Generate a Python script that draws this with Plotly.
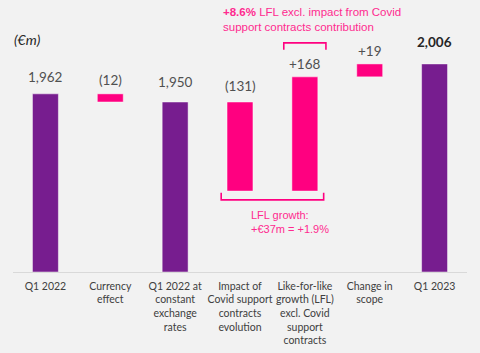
import plotly.graph_objects as go

categories = ["Q1 2022", "Currency<br>effect", "Q1 2022 at<br>constant<br>exchange<br>rates",
              "Impact of<br>Covid support<br>contracts<br>evolution",
              "Like-for-like<br>growth (LFL)<br>excl. Covid<br>support<br>contracts",
              "Change in<br>scope", "Q1 2023"]
values = [1962, -12, 1950, -131, 168, 19, 2006]
kinds = ["total", "delta", "total", "delta", "delta", "delta", "total"]
value_labels = ["1,962", "(12)", "1,950", "(131)", "+168", "+19", "2,006"]

AXIS_MIN = 1700
AXIS_MAX = 2100
PURPLE = "#771d8f"
PINK = "#ff0080"
PINK_TXT = "#ff2a8f"

# waterfall geometry from data
bases, heights, colors, tops = [], [], [], []
level = 0
for v, k in zip(values, kinds):
    if k == "total":
        bases.append(AXIS_MIN)
        heights.append(v - AXIS_MIN)
        colors.append(PURPLE)
        level = v
        tops.append(v)
    else:
        b = level if v >= 0 else level + v
        bases.append(b)
        heights.append(abs(v))
        colors.append(PINK)
        tops.append(max(level, level + v))
        level += v

x = list(range(len(categories)))
fig = go.Figure(go.Bar(x=x, y=heights, base=bases, width=0.4,
                       marker=dict(color=colors, line=dict(color="rgba(255,255,255,0.6)", width=0.8)),
                       hoverinfo="skip"))

label_shift = [17, 14, 20, 16, 13, 13, 22]
ann = []
for i, (t, top) in enumerate(zip(value_labels, tops)):
    bold = i == len(values) - 1
    ann.append(dict(x=i, y=top, yshift=label_shift[i], text=f"<b>{t}</b>" if bold else t,
                    showarrow=False, yanchor="middle",
                    font=dict(family="Lato", size=13.5, color="#262626" if bold else "#505050")))

ann.append(dict(xref="paper", x=-0.002, y=2070 - 28, text="<i>(€m)</i>", showarrow=False,
                xanchor="left", yanchor="middle",
                font=dict(family="Lato", size=14, color="#262626")))

ann.append(dict(x=2.705, y=2071, text="<b>+8.6%</b> LFL excl. impact from Covid<br>support contracts contribution",
                showarrow=False, xanchor="left", yanchor="middle", align="left",
                font=dict(family="Liberation Sans", size=11.5, color=PINK_TXT)))

after_covid = values[2] + values[3]
ann.append(dict(x=3.14, y=after_covid - 46, text="LFL growth:<br>+€37m = +1.9%",
                showarrow=False, xanchor="left", yanchor="middle", align="left",
                font=dict(family="Liberation Sans", size=11, color=PINK_TXT)))
fig.update_layout(annotations=ann)

# brackets
lo_y = after_covid - 13
lo_leg = after_covid - 2.5
fig.add_shape(type="path", path=f"M 2.71 {lo_leg} L 2.71 {lo_y} L 4.29 {lo_y} L 4.29 {lo_leg}",
              line=dict(color=PINK, width=1.6))
hi_top = tops[4] + 50
hi_leg = tops[4] + 40
fig.add_shape(type="path", path=f"M 3.675 {hi_leg} L 3.675 {hi_top} L 4.325 {hi_top} L 4.325 {hi_leg}",
              line=dict(color=PINK, width=1.6))

fig.update_layout(
    width=480, height=353,
    margin=dict(l=12.5, r=12.5, t=0, b=81),
    paper_bgcolor="#f2f2f2", plot_bgcolor="#f2f2f2",
    showlegend=False,
    xaxis=dict(tickmode="array", tickvals=x, ticktext=categories, range=[-0.5, 6.5],
               showgrid=False, showline=True, linecolor="#d9d9d9", linewidth=1.2,
               ticks="", tickangle=0, ticklabelstandoff=4,
               tickfont=dict(family="Lato", size=10.5, color="#404040"), fixedrange=True),
    yaxis=dict(range=[AXIS_MIN, AXIS_MAX], visible=False, fixedrange=True),
)
fig.write_html("out.html")
